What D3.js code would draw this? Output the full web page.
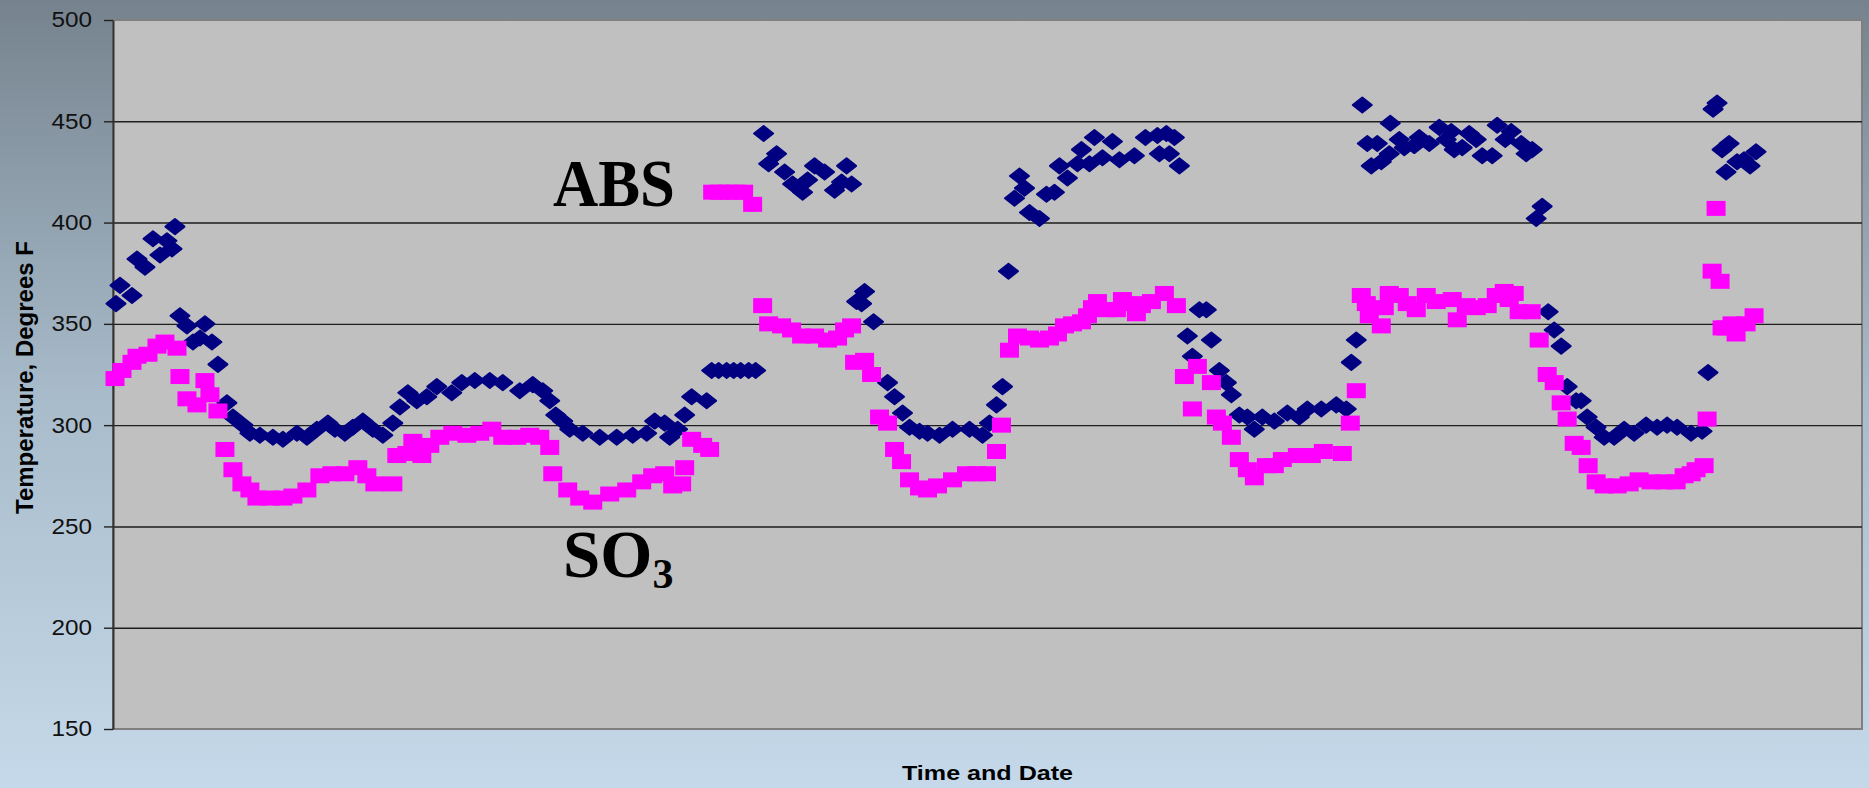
<!DOCTYPE html>
<html>
<head>
<meta charset="utf-8">
<script src="https://cdn.jsdelivr.net/npm/d3@7"></script>
<style>
  html, body { margin: 0; padding: 0; overflow: hidden; }
  svg { display: block; }
</style>
</head>
<body>
<svg width="1869" height="788"></svg>
<script>
// hours from start of record, temperature in degrees F
const yTicks = [150, 200, 250, 300, 350, 400, 450, 500];

const absPoints = [
  [0.3,360],[0.7,369],[1.9,364],[2.4,382],[3.2,378],[4.0,392],[4.7,384],[5.4,391],[5.9,387],[6.2,398],
  [6.7,354],[7.4,349],[8.0,341],[8.7,343],[9.2,350],[9.9,341],[10.5,330],[11.4,311],[12.0,304],[13.0,300],
  [13.7,296],[14.7,295],[16.0,294],[17.0,293],[18.4,296],[19.4,294],[20.4,298],[21.5,301],[22.2,298],[23.2,296],
  [24.0,299],[25.0,302],[26.0,298],[27.0,295],[28.0,301],[28.7,309],[29.5,316],[30.4,312],[31.4,314],[32.4,319],
  [33.9,316],[34.9,321],[36.2,322],[37.7,322],[39.0,321],[40.7,317],[42.0,320],[43.0,317],[43.7,312],[44.3,305],
  [45.0,302],[45.7,298],[47.0,296],[48.7,294],[50.4,294],[52.0,295],[53.4,296],[54.2,302],[55.2,301],[55.7,294],
  [56.5,298],[57.2,305],[57.9,314],[59.4,312],[59.9,327],[60.6,327],[61.4,327],[62.1,327],[62.8,327],[63.6,327],[64.3,327],
  [65.1,444],[65.6,429],[66.4,434],[67.2,425],[68.0,419],[69.0,415],[69.5,421],[70.2,428],[71.2,425],[72.2,416],
  [72.9,420],[73.4,428],[73.9,419],[74.4,361],[74.9,360],[75.2,366],[76.1,351],[77.5,321],[78.2,314],[79.0,306],
  [79.7,299],[80.7,297],[81.5,296],[82.7,295],[84.0,298],[85.7,298],[87.0,295],[87.7,301],[88.4,310],[89.0,319],
  [89.6,376],[90.2,412],[90.7,423],[91.2,417],[91.7,405],[92.7,402],[93.4,414],[94.2,415],[94.7,428],[95.5,422],
  [96.5,429],[96.9,436],[97.7,429],[98.2,442],[99.0,432],[100.0,440],[100.7,431],[102.2,433],[103.3,442],[104.5,443],
  [104.7,434],[105.4,444],[105.7,434],[106.2,442],[106.7,428],[107.5,344],[108.0,334],[108.7,357],[109.4,357],[109.9,342],
  [110.7,327],[111.4,321],[111.9,315],[112.7,305],[113.5,304],[114.2,298],[115.0,304],[116.2,302],[117.5,306],[118.7,304],
  [119.5,308],[120.9,308],[122.4,310],[123.4,308],[123.9,331],[124.4,342],[125.0,458],[125.5,439],[125.9,428],[126.5,439],
  [126.9,430],[127.7,434],[127.8,449],[128.7,441],[129.2,437],[130.2,438],[130.7,442],[131.7,439],[132.7,447],[133.4,441],
  [133.9,445],[134.2,436],[135.0,437],[135.7,444],[136.4,441],[137.0,433],[138.0,433],[138.5,448],[139.3,441],[139.9,445],
  [140.9,439],[141.4,434],[142.0,436],[142.4,402],[143.0,408],[143.6,356],[144.2,347],[144.9,339],[145.5,319],[146.4,312],
  [146.9,312],[147.5,304],[148.4,299],[149.2,294],[150.2,294],[151.2,298],[152.2,296],[153.4,300],[154.5,299],[155.5,300],
  [156.5,299],[157.9,296],[159.0,297],[159.6,326],[160.1,456],[160.5,459],[161.0,436],[161.4,425],[161.7,439],[162.5,430],
  [163.2,431],[163.8,428],[164.4,435]
];

const so3Points = [
  [0.2,323],[0.9,327],[1.9,331],[2.4,334],[3.5,335],[4.4,339],[5.2,341],[6.4,338],[6.7,324],[7.4,313],
  [8.4,310],[9.2,322],[9.7,315],[10.5,307],[11.2,288],[12.0,278],[12.9,271],[13.7,268],[14.4,264],[15.7,264],
  [17.0,264],[18.0,265],[19.4,268],[20.7,275],[21.9,276],[23.2,276],[24.5,279],[25.4,275],[26.2,271],[28.0,271],
  [28.4,285],[29.4,286],[30.0,292],[30.9,285],[31.7,290],[32.7,294],[34.0,296],[35.4,295],[36.7,296],[37.9,298],
  [39.0,294],[40.4,294],[41.7,295],[42.7,294],[43.7,289],[44.0,276],[45.5,268],[46.7,264],[48.0,262],[49.7,266],
  [51.4,268],[52.9,272],[54.0,275],[55.2,276],[56.0,270],[56.9,271],[57.2,279],[57.9,293],[59.0,290],[59.7,288],
  [60.0,415],[60.7,415],[61.5,415],[62.3,415],[63.1,415],[64.0,409],[65.0,359],[65.6,350],[66.9,349],[67.9,347],
  [68.9,344],[70.2,344],[71.5,342],[72.5,343],[73.2,347],[73.9,349],[74.2,331],[75.2,332],[75.9,325],[76.7,304],
  [77.5,301],[78.2,288],[78.9,282],[79.7,273],[80.7,269],[81.5,268],[82.5,270],[84.0,273],[85.4,276],[86.4,276],
  [87.4,276],[88.4,287],[88.9,300],[89.7,337],[90.5,344],[91.7,343],[92.7,342],[93.7,343],[94.5,345],[95.2,349],
  [96.0,350],[96.9,351],[97.5,354],[98.0,358],[98.5,361],[99.4,357],[100.4,357],[101.0,362],[102.0,360],[102.4,355],
  [102.9,359],[103.9,361],[105.2,365],[106.4,359],[107.2,324],[108.0,308],[108.5,329],[109.9,321],[110.4,304],[111.0,301],
  [111.9,294],[112.7,283],[113.5,278],[114.2,274],[115.4,280],[116.2,280],[117.0,283],[118.5,285],[119.9,285],[121.1,287],
  [123.0,286],[123.8,301],[124.4,317],[124.9,364],[125.4,360],[125.7,354],[126.9,349],[127.2,358],[127.7,365],[128.7,364],
  [129.5,360],[130.4,357],[131.4,364],[132.4,361],[134.0,362],[134.5,352],[135.4,359],[136.4,358],[137.5,359],[138.4,364],
  [139.2,366],[139.7,362],[140.2,365],[140.7,356],[141.9,356],[142.7,342],[143.5,325],[144.2,321],[144.9,311],[145.5,303],
  [146.2,291],[146.9,289],[147.6,280],[148.4,272],[149.2,270],[150.5,270],[151.7,271],[152.7,273],[153.9,272],[155.2,272],
  [156.4,272],[157.2,275],[157.9,276],[158.4,278],[159.2,280],[159.5,303],[160.0,376],[160.4,407],[160.8,371],[161.0,348],
  [161.4,348],[162.0,350],[162.4,345],[163.4,350],[164.2,354]
];

const svg = d3.select("svg");
const w = +svg.attr("width");
const h = +svg.attr("height");
const plot = { left: 113, right: 1862, top: 20, bottom: 729 };

svg.append("defs").append("linearGradient")
  .attr("id", "bgGradient")
  .attr("x1", "0%").attr("x2", "0%")
  .attr("y1", "0%").attr("y2", "100%")
  .selectAll("stop")
  .data([{ offset: "0%", color: "#76838e" }, { offset: "50%", color: "#a8bbca" }, { offset: "100%", color: "#c6d9ea" }])
  .enter().append("stop")
  .attr("offset", d => d.offset)
  .attr("stop-color", d => d.color);

svg.append("rect")
  .attr("width", w)
  .attr("height", h)
  .attr("fill", "url(#bgGradient)");

const xScale = d3.scaleLinear().domain([0, 175]).range([plot.left, plot.right]);
const yScale = d3.scaleLinear().domain([150, 500]).range([plot.bottom, plot.top]);

// plot area
svg.append("rect")
  .attr("x", plot.left)
  .attr("y", plot.top)
  .attr("width", plot.right - plot.left)
  .attr("height", plot.bottom - plot.top)
  .attr("fill", "#c0c0c0")
  .attr("stroke", "#808080")
  .attr("stroke-width", 2);

// gridlines
svg.append("g")
  .attr("transform", `translate(${plot.left}, 0)`)
  .call(d3.axisLeft(yScale).tickValues(yTicks.slice(1, -1)).tickSize(-(plot.right - plot.left)).tickFormat(""))
  .call(g => g.select(".domain").remove())
  .call(g => g.selectAll("line").attr("stroke", "#1e1e1e").attr("stroke-width", 1.4));

// y axis
svg.append("g")
  .attr("id", "y-axis")
  .attr("transform", `translate(${plot.left}, 0)`)
  .call(d3.axisLeft(yScale).tickValues(yTicks).tickSize(9).tickPadding(12).tickSizeOuter(0))
  .call(g => g.select(".domain").attr("stroke", "#333").attr("stroke-width", 2))
  .call(g => g.selectAll("line").attr("stroke", "#222").attr("stroke-width", 1.4))
  .call(g => g.selectAll("text")
    .attr("font-family", "'Liberation Sans', Arial, sans-serif")
    .attr("font-size", 21.5)
    .attr("fill", "#111")
    .attr("x", -21 / 1.13)
    .attr("transform", "scale(1.13, 1)"));

// Axis Labels
svg.append("text")
  .attr("transform", `translate(33, ${(plot.top + plot.bottom) / 2 + 3}) rotate(-90)`)
  .attr("text-anchor", "middle")
  .attr("font-family", "'Liberation Sans', Arial, sans-serif")
  .attr("font-weight", "bold")
  .attr("font-size", 24)
  .attr("fill", "#000")
  .text("Temperature, Degrees F");

svg.append("text")
  .attr("x", (plot.left + plot.right) / 2)
  .attr("y", 780)
  .attr("text-anchor", "middle")
  .attr("font-family", "'Liberation Sans', Arial, sans-serif")
  .attr("font-weight", "bold")
  .attr("font-size", 21)
  .attr("textLength", 171)
  .attr("lengthAdjust", "spacingAndGlyphs")
  .attr("fill", "#000")
  .text("Time and Date");

// series
svg.append("g")
  .selectAll("path")
  .data(absPoints)
  .enter().append("path")
  .attr("d", "M0,-7.5 L9.5,0 L0,7.5 L-9.5,0Z")
  .attr("transform", d => `translate(${xScale(d[0])}, ${yScale(d[1])})`)
  .attr("fill", "#000080")
  .attr("stroke", "#000080")
  .attr("stroke-width", 2)
  .attr("stroke-linejoin", "round");

svg.append("g")
  .selectAll("rect")
  .data(so3Points)
  .enter().append("rect")
  .attr("x", d => xScale(d[0]) - 9.5)
  .attr("y", d => yScale(d[1]) - 7.5)
  .attr("width", 19)
  .attr("height", 15)
  .attr("fill", "#ff00ff");

// series labels
svg.append("text")
  .attr("x", 553)
  .attr("y", 206)
  .attr("font-family", "'Liberation Serif', 'Times New Roman', serif")
  .attr("font-weight", "bold")
  .attr("font-size", 67)
  .attr("textLength", 122)
  .attr("lengthAdjust", "spacingAndGlyphs")
  .attr("fill", "#000")
  .text("ABS");

const so3Label = svg.append("text")
  .attr("x", 563)
  .attr("y", 577)
  .attr("font-family", "'Liberation Serif', 'Times New Roman', serif")
  .attr("font-weight", "bold")
  .attr("font-size", 67)
  .attr("fill", "#000");
so3Label.append("tspan").text("SO");
so3Label.append("tspan").attr("font-size", 42).attr("dy", 11).text("3");
</script>
</body>
</html>
